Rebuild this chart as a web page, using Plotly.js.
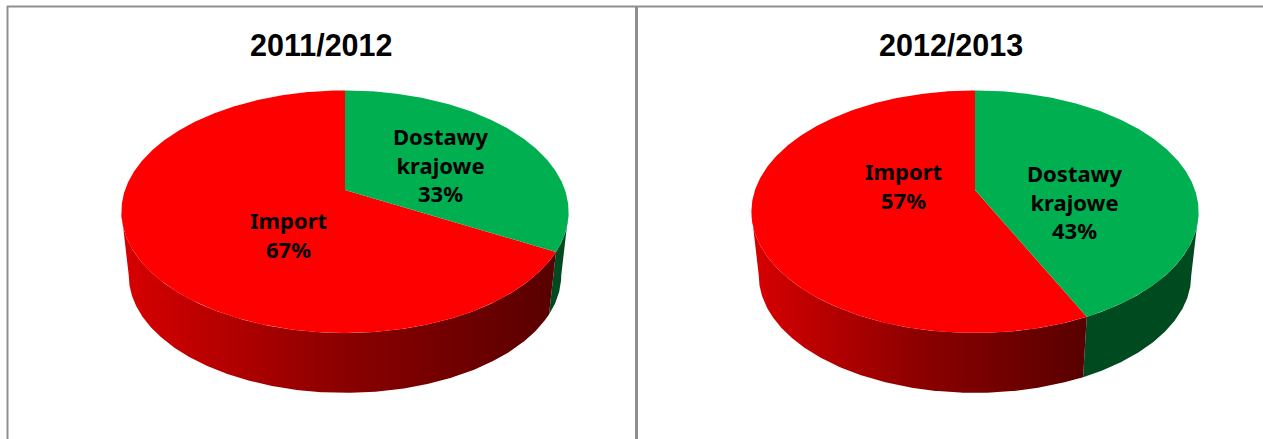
<!DOCTYPE html>
<html>
<head>
<meta charset="utf-8">
<script src="https://cdn.plot.ly/plotly-3.0.1.min.js"></script>
<style>html,body{margin:0;padding:0;background:#fff;overflow:hidden}#chart{width:1263px;height:439px}</style>
</head>
<body>
<div id="chart"></div>
<script>
// Share of supply by season
const seasons = ['2011/2012', '2012/2013'];
const categories = ['Dostawy krajowe', 'Import'];
const domesticShare = [33, 43];
const importShare = [67, 57];

// Look of the tilted disc: perspective strength, wall height and shrink of the lower rim
const perspective = 0.179;
const wallDrop = 0.55;
const wallShrink = 0.967;

const W = 1263, H = 439;
const panels = [
  {x0: 0, x1: 637, cx: 345, cy: 190, ax: 'x', ay: 'y'},
  {x0: 637, x1: 1263, cx: 975, cy: 190, ax: 'x2', ay: 'y2'}
];
const scaleX = 220, scaleY = 117.4;

// Project a point on the rim of the disc, angle in degrees clockwise from 12 o'clock
function rim(deg, shrink, drop) {
  const t = deg * Math.PI / 180, u = Math.sin(t), v = -Math.cos(t);
  const d = 1 - perspective * v;
  return [shrink * u / d, -(drop + shrink * v / d)];
}
function arc(a, b, shrink, drop) {
  const n = Math.max(2, Math.ceil(Math.abs(b - a) * 2)), pts = [];
  for (let i = 0; i <= n; i++) pts.push(rim(a + (b - a) * i / n, shrink, drop));
  return pts;
}
function poly(pts, p, extra) {
  return Object.assign({
    type: 'scatter', mode: 'lines', x: pts.map(q => q[0]), y: pts.map(q => q[1]),
    xaxis: p.ax, yaxis: p.ay, fill: 'toself', line: {width: 0},
    hoverinfo: 'skip', showlegend: false
  }, extra);
}

const tangent = Math.acos(-perspective) * 180 / Math.PI;
const redWall = {type: 'horizontal', colorscale: [[0, '#d80000'], [0.5, '#8c0000'], [1, '#580000']]};
const traces = [];
panels.forEach((p, i) => {
  const split = domesticShare[i] * 3.6;
  const wall = (a, b) => arc(a, b, 1, 0).concat(arc(b, a, wallShrink, wallDrop));
  traces.push(poly(wall(tangent, split), p, {fillcolor: '#004a20'}));
  traces.push(poly(wall(split, 360 - tangent), p, {fillgradient: redWall}));
  traces.push(poly([[0, 0]].concat(arc(split, 360, 1, 0)), p, {fillcolor: '#ff0000', name: categories[1]}));
  traces.push(poly([[0, 0]].concat(arc(0, split, 1, 0)), p, {fillcolor: '#00b050', name: categories[0]}));
});

const layout = {
  width: W, height: H, margin: {l: 0, r: 0, t: 0, b: 0},
  paper_bgcolor: '#fff', plot_bgcolor: 'rgba(0,0,0,0)', showlegend: false,
  annotations: [], shapes: [
    {type: 'line', xref: 'paper', yref: 'paper', x0: 7.5 / W, x1: 7.5 / W, y0: 0, y1: 1 - 6 / H, line: {color: '#8f8f8f', width: 2}},
    {type: 'line', xref: 'paper', yref: 'paper', x0: 636.5 / W, x1: 636.5 / W, y0: 0, y1: 1 - 6 / H, line: {color: '#8f8f8f', width: 3}},
    {type: 'line', xref: 'paper', yref: 'paper', x0: 7 / W, x1: 1, y0: 1 - 6.5 / H, y1: 1 - 6.5 / H, line: {color: '#8f8f8f', width: 2}}
  ]
};
panels.forEach((p, i) => {
  const s = i ? '2' : '';
  layout['xaxis' + s] = {domain: [p.x0 / W, p.x1 / W], range: [(p.x0 - p.cx) / scaleX, (p.x1 - p.cx) / scaleX], visible: false, fixedrange: true};
  layout['yaxis' + s] = {domain: [0, 1], range: [(p.cy - H) / scaleY, p.cy / scaleY], visible: false, fixedrange: true};
});

const titleFont = {family: '"Liberation Sans"', size: 30.5, weight: 700, color: '#000'};
const labelFont = {family: '"Noto Sans"', size: 22, weight: 700, color: '#000'};
function note(text, x, y, font) {
  layout.annotations.push({text, x: x / W, y: 1 - y / H, xref: 'paper', yref: 'paper', xanchor: 'center', yanchor: 'middle', showarrow: false, font, align: 'center'});
}
note(seasons[0], 321, 45.5, titleFont);
note(seasons[1], 951, 45.5, titleFont);
note('Dostawy<br>krajowe<br>' + domesticShare[0] + '%', 440, 164, labelFont);
note(categories[1] + '<br>' + importShare[0] + '%', 288, 234, labelFont);
note('Dostawy<br>krajowe<br>' + domesticShare[1] + '%', 1074, 201.5, labelFont);
note(categories[1] + '<br>' + importShare[1] + '%', 903, 185, labelFont);

Plotly.newPlot('chart', traces, layout, {displayModeBar: false, staticPlot: true});
</script>
</body>
</html>
